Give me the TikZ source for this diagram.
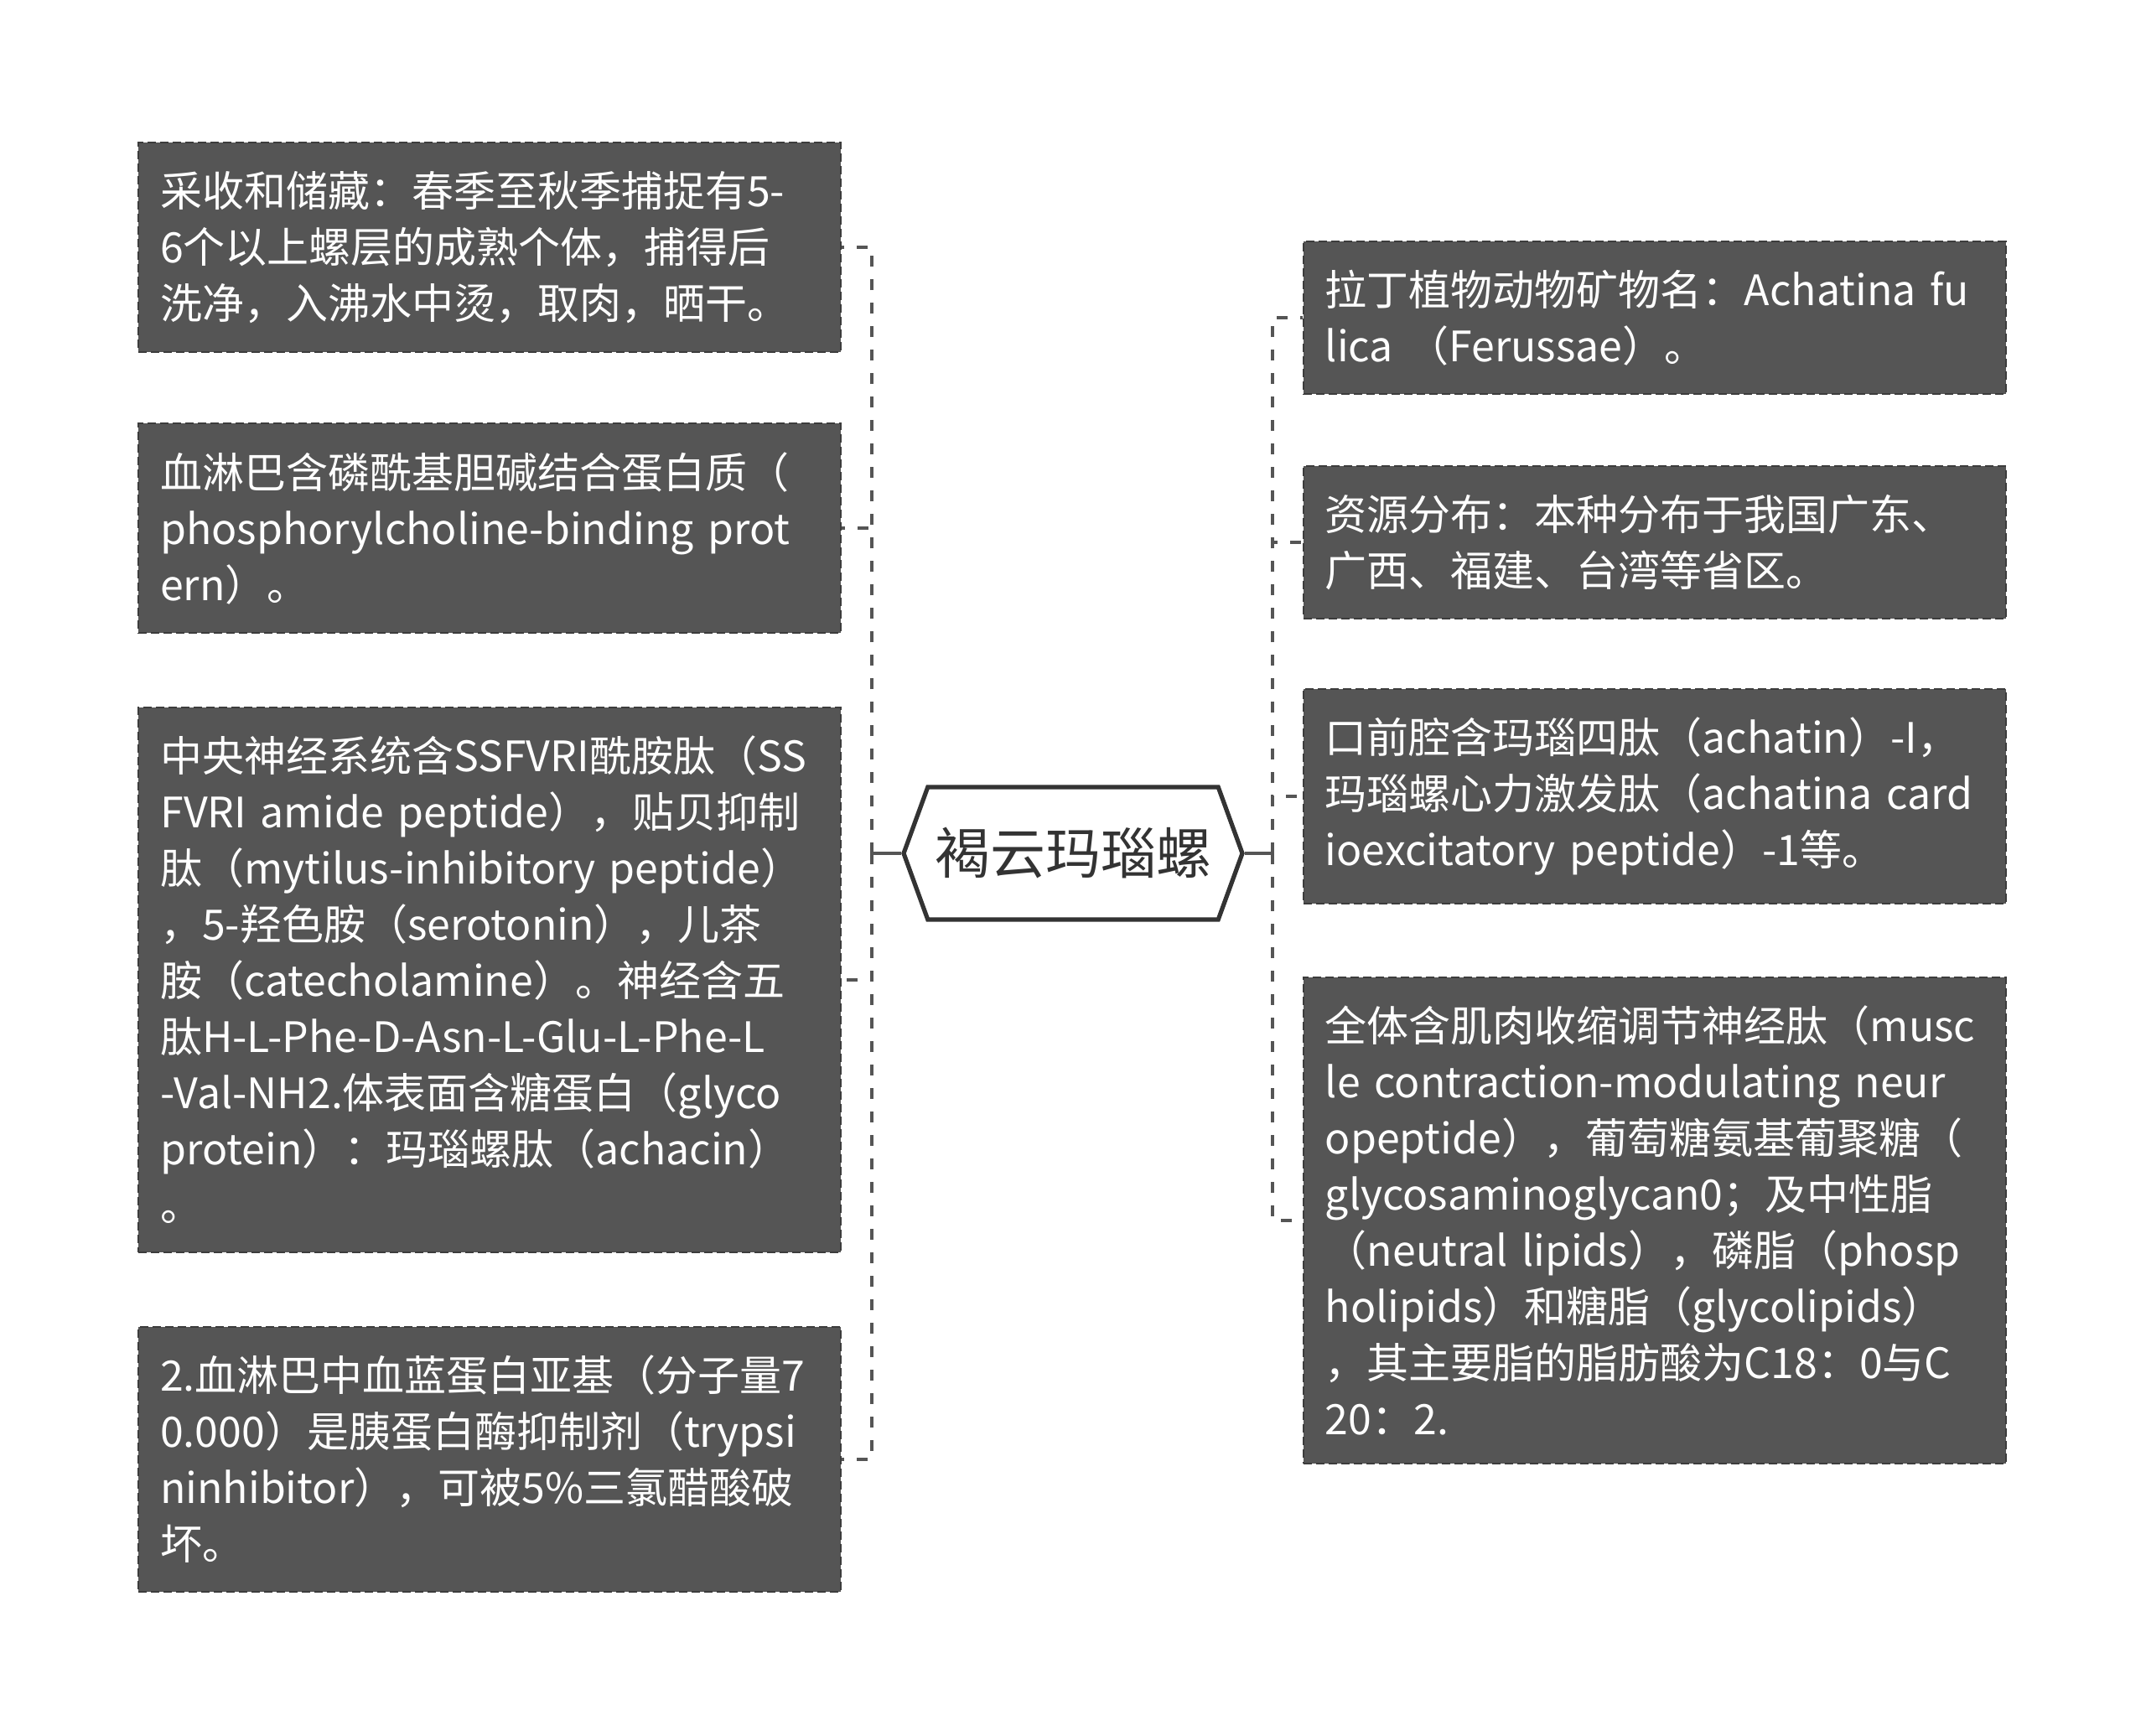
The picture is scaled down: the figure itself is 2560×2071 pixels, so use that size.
\documentclass[tikz,border=0pt]{standalone}
\usepackage{fontspec}
\setmainfont{Noto Sans CJK SC}
\usepackage{tikz}
\usetikzlibrary{positioning,calc,shapes.symbols,arrows.meta}
\definecolor{boxgray}{HTML}{555555}
\definecolor{edgegray}{HTML}{3C3C3C}
\definecolor{linkgray}{HTML}{555555}
\definecolor{rootgray}{HTML}{333333}

\begin{document}
\begin{tikzpicture}[x=0.5pt,y=-0.5pt,
  leaf/.style={fill=boxgray,draw=edgegray,dashed,line width=0.8pt,dash pattern=on 5pt off 2.5pt,
    text=white,text width=393pt,inner xsep=13pt,inner ysep=17pt,align=left,
    font=\fontsize{25}{33.5}\selectfont},
  root/.style={shape=signal,signal to=west and east,signal pointer angle=140,
    draw=rootgray,line width=2.6pt,fill=white,minimum width=202pt,minimum height=79pt,
    inner xsep=4pt,text=rootgray,font=\fontsize{33}{40}\selectfont},
  link/.style={draw=linkgray,line width=2pt,dash pattern=on 6.5pt off 7.5pt},
  stub/.style={draw=linkgray,line width=2pt}]
\useasboundingbox (0,0) rectangle (2560,2071);
% centre
\node[root] (c) at (1280,1018) {褐云玛瑙螺};
\coordinate (jl) at (1040,1018);
\coordinate (jr) at (1518,1018);
% left side
\node[leaf,anchor=east] (l1) at (1004,295) {采收和储藏：春季至秋季捕捉有5-\\6个以上螺层的成熟个体，捕得后\\洗净，入沸水中烫，取肉，晒干。};
\node[leaf,anchor=east] (l2) at (1004,630) {血淋巴含磷酰基胆碱结合蛋白质（\\phosphorylcholine-binding prot\\ern）。};
\node[leaf,anchor=east] (l3) at (1004,1169) {中央神经系统含SSFVRI酰胺肽（SS\\FVRI amide peptide），贴贝抑制\\肽（mytilus-inhibitory peptide）\\，5-羟色胺（serotonin），儿茶\\胺（catecholamine）。神经含五\\肽H-L-Phe-D-Asn-L-Glu-L-Phe-L\\-Val-NH2.体表面含糖蛋白（glyco\\protein）：玛瑙螺肽（achacin）\\。};
\node[leaf,anchor=east] (l4) at (1004,1741) {2.血淋巴中血蓝蛋白亚基（分子量7\\0.000）是胰蛋白酶抑制剂（trypsi\\ninhibitor），可被5\%三氯醋酸破\\坏。};
% right side
\node[leaf,anchor=west] (r1) at (1554,379) {拉丁植物动物矿物名：Achatina fu\\lica （Ferussae）。};
\node[leaf,anchor=west] (r2) at (1554,647) {资源分布：本种分布于我国广东、\\广西、福建、台湾等省区。};
\node[leaf,anchor=west] (r3) at (1554,950) {口前腔含玛瑙四肽（achatin）-I，\\玛瑙螺心力激发肽（achatina card\\ioexcitatory peptide）-1等。};
\node[leaf,anchor=west] (r4) at (1554,1456) {全体含肌肉收缩调节神经肽（musc\\le contraction-modulating neur\\opeptide），葡萄糖氨基葡聚糖（\\glycosaminoglycan0；及中性脂\\（neutral lipids），磷脂（phosp\\holipids）和糖脂（glycolipids）\\，其主要脂的脂肪酸为C18：0与C\\20：2.};
% connectors
\draw[stub] (c.west) -- (jl); \draw[stub] (c.east) -- (jr);
\foreach \n in {l1,l2,l3,l4} \draw[link] (jl) |- (\n.east);
\foreach \n in {r1,r2,r3,r4} \draw[link] (jr) |- (\n.west);
\end{tikzpicture}
\end{document}
